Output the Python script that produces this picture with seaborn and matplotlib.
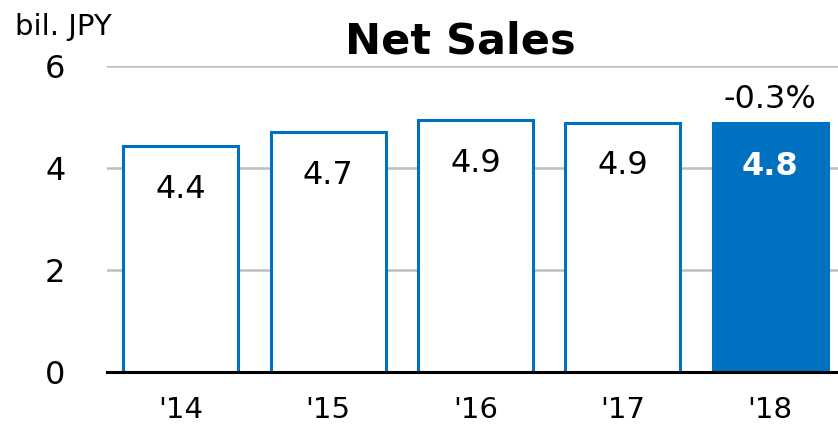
import matplotlib
matplotlib.use('Agg')
import matplotlib.pyplot as plt
import seaborn as sns
import pandas as pd

# Net sales by fiscal year (bil. JPY)
years = ["'14", "'15", "'16", "'17", "'18"]
sales = [4.43, 4.71, 4.94, 4.89, 4.875]
labels = ['4.4', '4.7', '4.9', '4.9', '4.8']
change_note = '-0.3%'
yticks = [0, 2, 4, 6]

blue = '#0070C0'

sns.set_style('white')
plt.rcParams['font.family'] = ['DejaVu Sans']
plt.rcParams['text.color'] = 'black'
plt.rcParams['xtick.color'] = 'black'
plt.rcParams['ytick.color'] = 'black'

df = pd.DataFrame({'year': years, 'sales': sales})

fig = plt.figure(figsize=(8.38, 4.32), dpi=100)
ax = fig.add_axes([107/838, 60/432, 731/838, 306/432])

sns.barplot(data=df, x='year', y='sales', color='white', edgecolor=blue,
            linewidth=2.2, width=0.78, saturation=1, ax=ax, zorder=3)
ax.patches[-1].set_facecolor(blue)

# value labels inside the bars
for i, (v, lab) in enumerate(zip(sales, labels)):
    last = i == len(sales) - 1
    ax.annotate(lab, (i, v), xytext=(0, -20), textcoords='offset points',
                ha='center', va='top', fontsize=23,
                color='white' if last else 'black',
                fontweight='bold' if last else 'normal', zorder=5)
ax.annotate(change_note, (len(sales) - 1, sales[-1]), xytext=(0, 6),
            textcoords='offset points', ha='center', va='bottom', fontsize=23)

ax.set_ylim(0, 6)
ax.set_xlim(-0.5, 4.46)
ax.set_yticks(yticks)
ax.yaxis.grid(True, color='#BFBFBF', linewidth=1.8)
ax.set_axisbelow(True)
ax.set_xlabel('')
ax.set_ylabel('')
ax.tick_params(axis='y', length=0, pad=30, labelsize=23)
ax.tick_params(axis='x', length=0, pad=17, labelsize=21)

for s in ['left', 'right', 'top']:
    ax.spines[s].set_visible(False)
ax.spines['bottom'].set_color('black')
ax.spines['bottom'].set_linewidth(2.2)
ax.spines['bottom'].set_zorder(4)

fig.text(15/838, 1 - 27/432, 'bil. JPY', ha='left', va='center', fontsize=21)
fig.text(460/838, 1 - 42/432, 'Net Sales', ha='center', va='center',
         fontsize=31, fontweight='bold')

fig.savefig('out.png', dpi=100)
